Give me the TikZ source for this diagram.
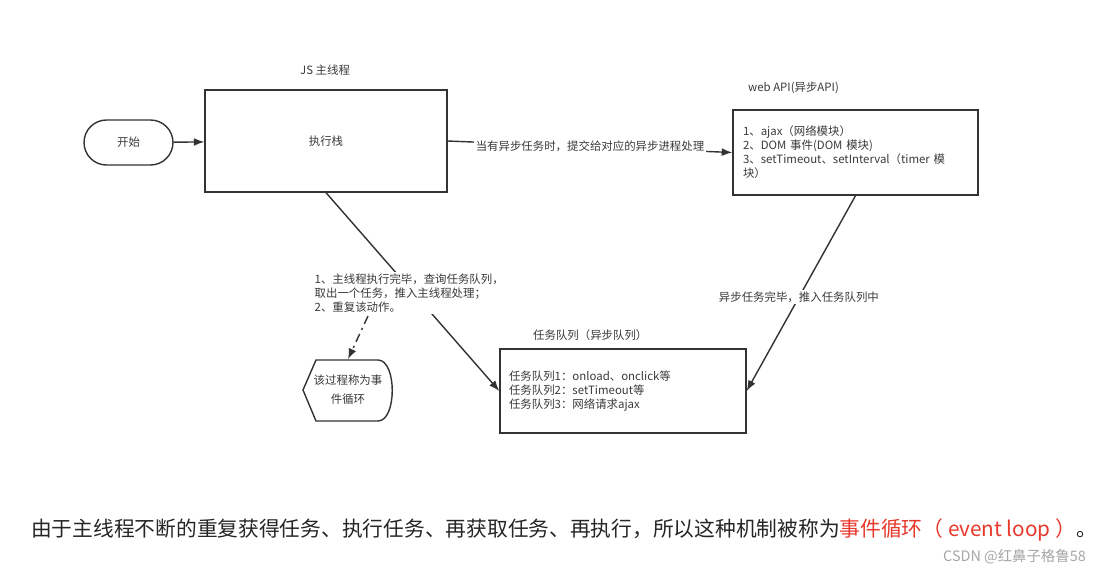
\documentclass[tikz,border=0pt]{standalone}
\usepackage{fontspec}
\setmainfont{Noto Sans CJK SC}
\usetikzlibrary{arrows.meta}
\definecolor{linegray}{HTML}{333333}
\definecolor{textgray}{HTML}{3A3A3A}
\definecolor{loopred}{HTML}{E8382C}

\begin{document}
\begin{tikzpicture}[x=0.02cm,y=-0.02cm,
  box/.style={draw=linegray, line width=0.8pt, inner sep=0pt},
  small/.style={font=\fontsize{6.5}{8}\selectfont, text=textgray},
  conn/.style={draw=linegray, line width=0.8pt, -{Latex[length=6pt,width=4.5pt]}},
  lbl/.style={small, fill=white, inner sep=1pt}]
\useasboundingbox[fill=white] (0,0) rectangle (1103,578);

\node[box, rounded corners=0.45cm, minimum width=1.78cm, minimum height=0.9cm, small] (start) at (128.5,142.5) {开始};
\node[box, minimum width=4.84cm, minimum height=2.04cm, small] (exec) at (326,141) {执行栈};
\node[small, anchor=west] (jslbl) at (294,70) {JS 主线程};

\node[box, minimum width=4.9cm, minimum height=1.7cm, small, align=left, text width=4.5cm] (webapi) at (855.5,152.5) {1、ajax（网络模块）\\2、DOM 事件(DOM 模块)\\3、setTimeout、setInterval（timer 模\\块）};
\node[small, anchor=west] (weblbl) at (742,88) {web API(异步API)};

\node[box, minimum width=4.92cm, minimum height=1.68cm, small, align=left, text width=4.56cm] (queue) at (623,391) {任务队列1：onload、onclick等\\任务队列2：setTimeout等\\任务队列3：网络请求ajax};
\node[small, anchor=west] (queuelbl) at (527,335) {任务队列（异步队列）};

\draw[linegray, line width=0.8pt] (303,390) -- (316,360) -- (378,360) .. controls (397,360) and (397,421) .. (378,421) -- (316,421) -- cycle;
\node[small, font=\fontsize{6.5}{11}\selectfont, align=center, minimum height=1.22cm] (loop) at (348,390) {该过程称为事\\件循环};

\draw[conn] (start) -- (exec);
\draw[conn] (exec.east) -- node[lbl] (asynclbl) {当有异步任务时，提交给对应的异步进程处理} (webapi.west);
\draw[conn] (webapi.south) -- node[lbl, pos=0.52] (donelbl) {异步任务完毕，推入任务队列中} (queue.east);
\draw[conn] (exec.south) -- node[lbl, pos=0.48, align=left, yshift=-0.1cm] (looplbl) {1、主线程执行完毕，查询任务队列，\\取出一个任务，推入主线程处理；\\2、重复该动作。} (queue.west);

\coordinate (ddstart) at (368,316);
\draw[conn, dash pattern=on 5pt off 2.5pt on 1.2pt off 2.5pt] (ddstart) -- (loop.north);

\node[anchor=west, font=\fontsize{11.8}{14}\selectfont, text=black!85] (summary) at (25,530) {由于主线程不断的重复获得任务、执行任务、再获取任务、再执行，所以这种机制被称为\textcolor{loopred}{事件循环（ event loop ）}。};
\node[anchor=east, font=\fontsize{8.2}{10}\selectfont, text=black!35] (mark) at (1092,557) {CSDN @红鼻子格鲁58};
\end{tikzpicture}
\end{document}
